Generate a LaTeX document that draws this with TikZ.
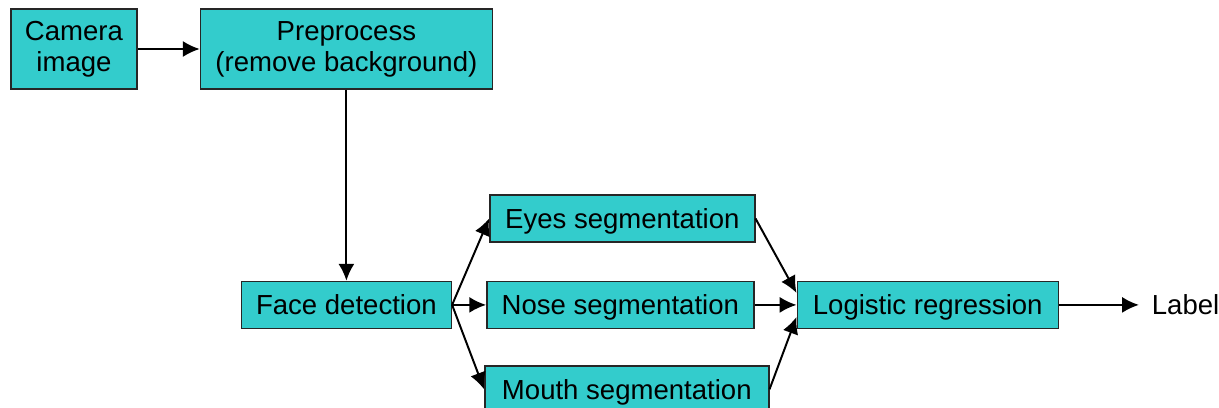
\documentclass[tikz,border=0pt]{standalone}
\usepackage{fontspec}
\setmainfont{Liberation Sans}
\usetikzlibrary{shapes,arrows.meta}
\usetikzlibrary{positioning}
\definecolor{boxcyan}{RGB}{51,204,204}
\tikzstyle{procbox} = [rectangle,minimum height=1.175cm,inner sep=0pt,align=center,fill=boxcyan,draw=black!85,line width=1pt,font=\fontsize{19.6}{22}\selectfont]
\tikzstyle{lonebox} = [procbox,text height=0.55cm,text depth=0.05cm]
\tikzstyle{outtext} = [inner xsep=0.3cm,inner ysep=0pt,font=\fontsize{19.6}{22}\selectfont]

\begin{document}
\begin{tikzpicture}[>={Latex[length=0.42cm,width=0.4cm]},->,line width=1.4pt]

\useasboundingbox (0,0) rectangle (30.475,-10.2);

\node (cam) [procbox,minimum width=3.15cm,minimum height=2cm] at (1.85,-1.225) {Camera\\image};
\node (pre) [procbox,minimum width=7.3cm,minimum height=2cm,right=1.55cm of cam] {Preprocess\\(remove background)};
\node (face) [lonebox,minimum width=5.25cm,below=4.775cm of pre] {Face detection};
\node (nose) [lonebox,minimum width=6.675cm,right=0.85cm of face] {Nose segmentation};
\node (eyes) [lonebox,minimum width=6.625cm,above=0.95cm of nose,xshift=0.05cm] {Eyes segmentation};
\node (mouth) [lonebox,minimum width=7.1cm,below=0.9cm of nose.south west,anchor=north west,xshift=-0.05cm] {Mouth segmentation};
\node (logreg) [lonebox,minimum width=6.525cm,right=1.05cm of nose] {Logistic regression};
\node (label) [outtext,right=2cm of logreg] {Label};

\draw (cam) -- (pre);
\draw (pre) -- (face);
\draw (face.east) -- (eyes.west);
\draw (face.east) -- (nose);
\draw (face.east) -- (mouth.west);
\draw (eyes.east) -- ([yshift=0.3cm]logreg.west);
\draw (nose) -- (logreg);
\draw (mouth.east) -- ([yshift=-0.3cm]logreg.west);
\draw (logreg) -- (label);

\end{tikzpicture}
\end{document}
